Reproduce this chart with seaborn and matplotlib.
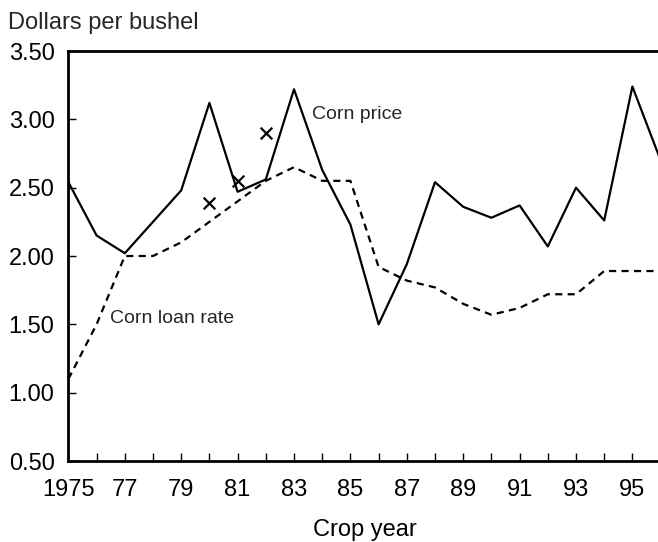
import numpy as np
import pandas as pd
import matplotlib
matplotlib.use("Agg")
import matplotlib.pyplot as plt
import seaborn as sns

# crop years and series
years = list(range(1975, 1997))
corn_price = [2.54, 2.15, 2.02, 2.25, 2.48, 3.12, 2.47, 2.56, 3.22, 2.63, 2.23,
              1.50, 1.94, 2.54, 2.36, 2.28, 2.37, 2.07, 2.50, 2.26, 3.24, 2.70]
loan_rate = [1.10, 1.50, 2.00, 2.00, 2.10, 2.25, 2.40, 2.55, 2.65, 2.55, 2.55,
             1.92, 1.82, 1.77, 1.65, 1.57, 1.62, 1.72, 1.72, 1.89, 1.89, 1.89]
mark_years = [1980, 1981, 1982]
mark_values = [2.39, 2.55, 2.90]

xtick_labels = ["1975", "77", "79", "81", "83", "85", "87", "89", "91", "93", "95"]
ytick_values = [0.5, 1.0, 1.5, 2.0, 2.5, 3.0, 3.5]

df = pd.DataFrame({"year": years, "price": corn_price, "loan": loan_rate})
marks = pd.DataFrame({"year": mark_years, "value": mark_values})

sns.set_theme(style="white")
plt.rcParams["font.family"] = ["Liberation Sans", "DejaVu Sans"]

fig = plt.figure(figsize=(6.58, 5.42), dpi=100)
W, H = 658, 542
left, right, top, bottom = 68.4, 660.6, 51, 461
ax = fig.add_axes([left / W, (H - bottom) / H, (right - left) / W, (bottom - top) / H])

sns.lineplot(data=df, x="year", y="price", ax=ax, color="black", linewidth=1.6)
sns.lineplot(data=df, x="year", y="loan", ax=ax, color="black", linewidth=1.6,
             linestyle=(0, (3.2, 2.4)))
sns.scatterplot(data=marks, x="year", y="value", ax=ax, marker="x", color="black",
                s=70, linewidth=1.6)

ax.set_xlim(1975, 1996)
ax.set_ylim(0.5, 3.5)
ax.set_xticks(years)
# label only every other year
ax.set_xticklabels([xtick_labels[(y - 1975) // 2] if (y - 1975) % 2 == 0 else "" for y in years])
ax.set_yticks(ytick_values)
ax.set_yticklabels([f"{v:.2f}" for v in ytick_values])

ax.tick_params(axis="x", direction="in", length=6, width=1, pad=13, labelsize=17,
               colors="black", bottom=True)
ax.tick_params(axis="y", direction="in", length=6, width=1, pad=10, labelsize=17,
               colors="black", left=True)

for side in ["left", "bottom", "top"]:
    ax.spines[side].set_color("black")
    ax.spines[side].set_linewidth(2)
ax.spines["right"].set_visible(False)

ax.set_xlabel("Crop year", fontsize=17, color="black", labelpad=13)
ax.set_ylabel("")

ax.text(1976.48, 1.51, "Corn loan rate", fontsize=14, va="baseline", ha="left")
ax.text(1983.65, 3.00, "Corn price", fontsize=14, va="baseline", ha="left")
fig.text(8 / W, 1 - 29.3 / H, "Dollars per bushel", fontsize=17, va="baseline", ha="left")

fig.savefig("out.png", dpi=100)
